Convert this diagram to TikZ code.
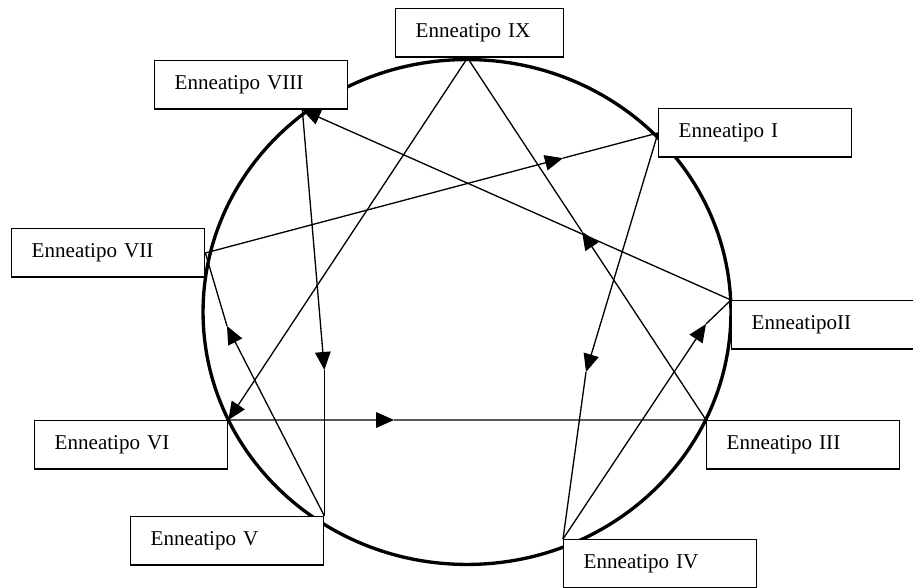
\documentclass[tikz,border=0pt]{standalone}
\usepackage{fontspec}
\setmainfont{Liberation Serif}
\usetikzlibrary{arrows.meta,calc}
\begin{document}
\begin{tikzpicture}[x=0.02cm, y=-0.02cm]
        \tikzstyle{arrow} = [line width=0.75pt, -{Triangle[length=3.6mm, width=3.1mm]}]
        \tikzstyle{line} = [line width=0.75pt]
        \tikzstyle{tipo} = [rectangle, draw=black, fill=white, line width=0.8pt, anchor=north west, minimum height=0.97cm, text width=3.06cm, inner xsep=0.4cm, align=left, font=\fontsize{12}{14}\selectfont]
        \useasboundingbox (0,0) rectangle (913,588);

        \draw [line width=1.9pt] (467,312) ellipse [x radius=5.28cm, y radius=5.05cm];

        \node (e9) [tipo, text width=2.56cm] at (395,8) {Enneatipo IX};
        \node (e8) [tipo] at (154,60) {Enneatipo VIII};
        \node (e1) [tipo] at (658,108) {Enneatipo I};
        \node (e2) [tipo] at (731,300) {EnneatipoII};
        \node (e3) [tipo] at (706,420) {Enneatipo III};
        \node (e4) [tipo] at (563,539) {Enneatipo IV};
        \node (e5) [tipo] at (130,516) {Enneatipo V};
        \node (e6) [tipo] at (34,420) {Enneatipo VI};
        \node (e7) [tipo] at (11,228) {Enneatipo VII};

        \coordinate (m63) at ($(e6.north east)!0.347!(e3.north west)$);
        \coordinate (m39) at ($(e3.north west)!0.52!(e9.-116)$);
        \coordinate (m14) at (586,372);
        \coordinate (m42) at (706,324);
        \coordinate (m85) at ($(e5.north east)+(0,-146)$);
        \coordinate (m57) at (227,326);
        \coordinate (m71) at ($(e7.east)!0.79!(e1.west)$);

        \draw [arrow] (e9.-116) -- (e6.north east);
        \draw [arrow] (e6.north east) -- (m63);
        \draw [line] (m63) -- (e3.north west);
        \draw [arrow] (e3.north west) -- (m39);
        \draw [line] (m39) -- (e9.-116);
        \draw [arrow] (e1.west) -- (m14);
        \draw [line] (m14) -- (e4.north west);
        \draw [arrow] (e4.north west) -- (m42);
        \draw [line] (m42) -- (e2.north west);
        \draw [arrow] (e2.north west) -- (e8.-26);
        \draw [arrow] (e8.-26) -- (m85);
        \draw [line] (m85) -- (e5.north east);
        \draw [arrow] (e5.north east) -- (m57);
        \draw [line] (m57) -- (e7.east);
        \draw [arrow] (e7.east) -- (m71);
        \draw [line] (m71) -- (e1.west);

\end{tikzpicture}
\end{document}
